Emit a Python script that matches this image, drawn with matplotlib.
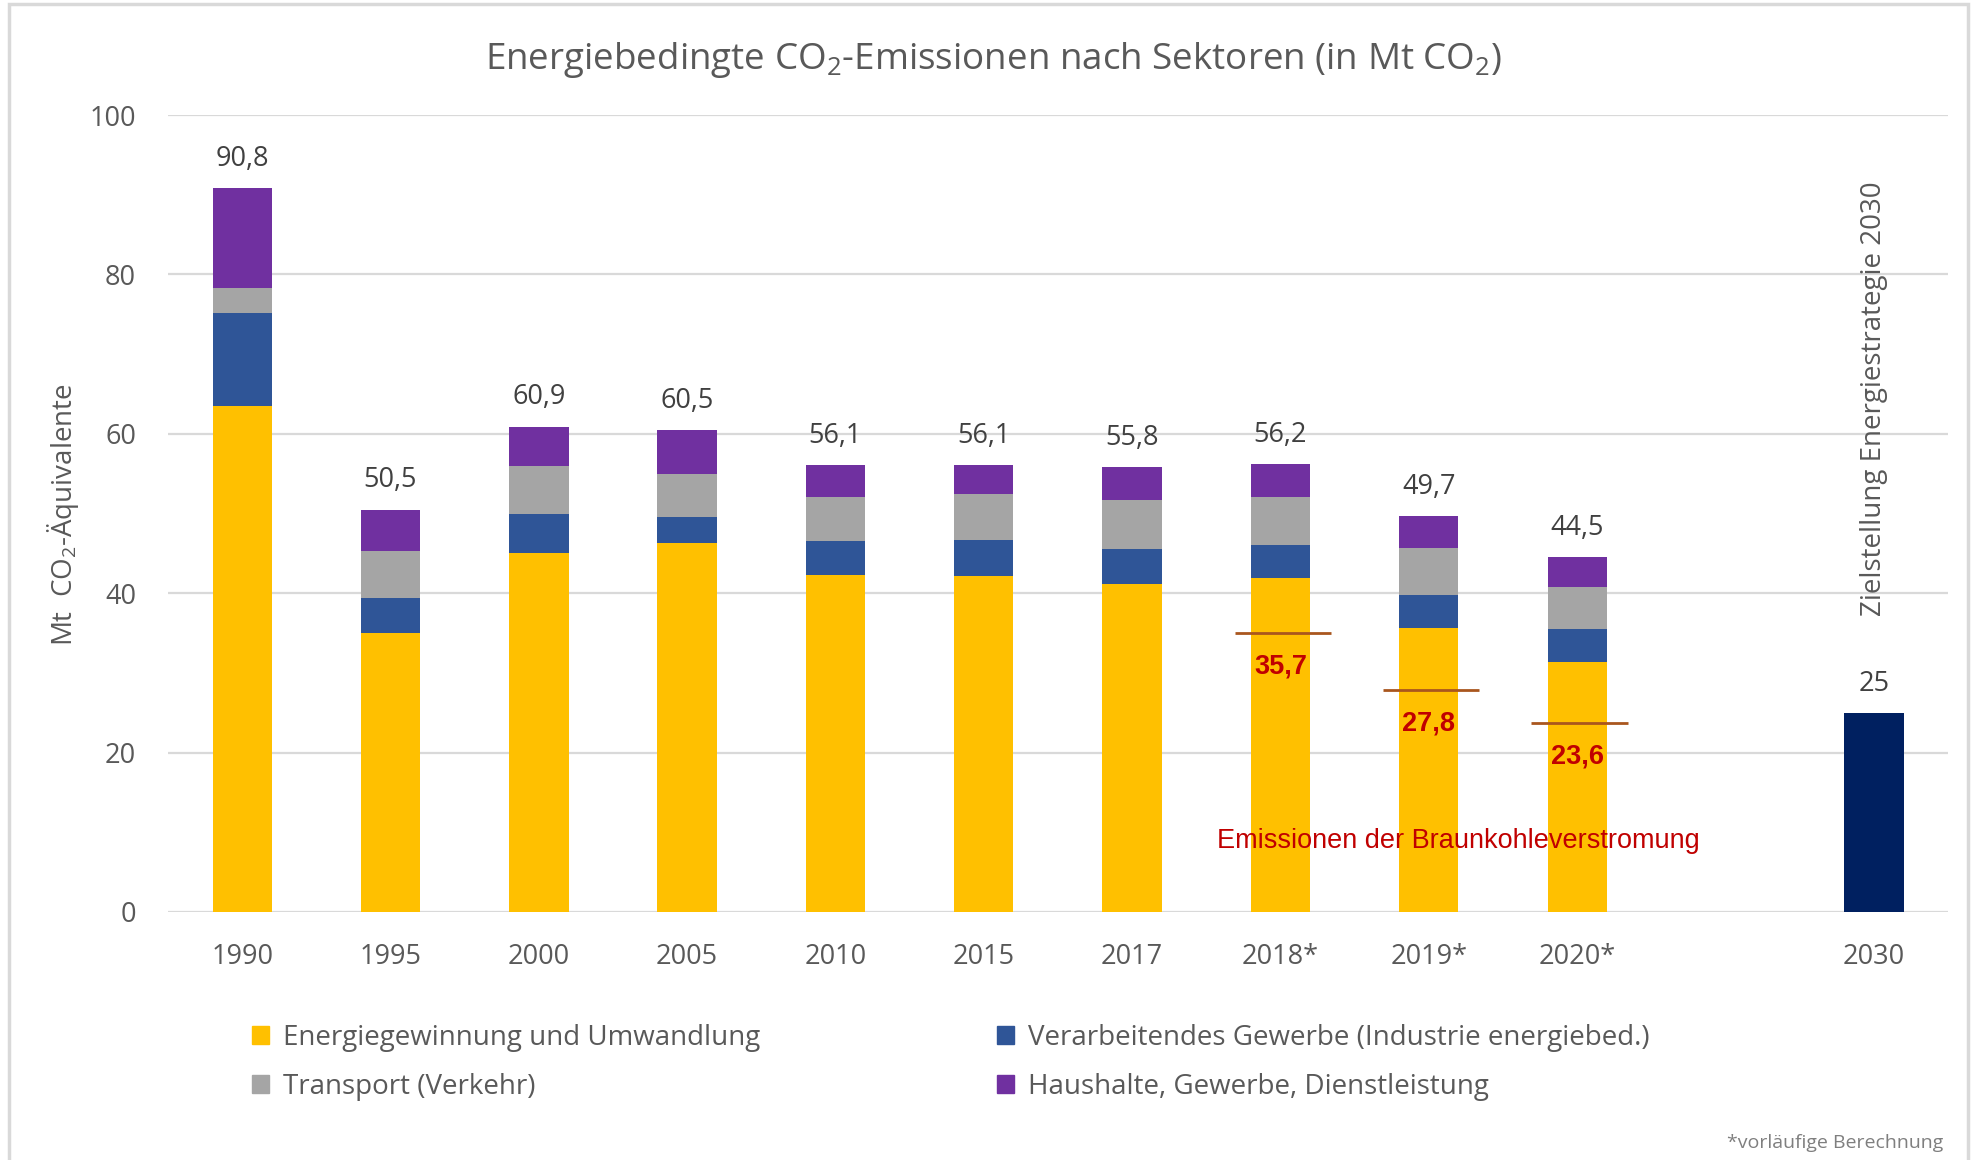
#! /usr/bin/env python

# import modules
import numpy
import matplotlib
matplotlib.use('Agg')
import matplotlib.pyplot
import matplotlib.patches


# Data
# ----
years = ['1990', '1995', '2000', '2005', '2010', '2015', '2017', '2018*', '2019*', '2020*']
energie = [63.5, 35.0, 45.0, 46.3, 42.3, 42.2, 41.1, 41.9, 35.6, 31.4]
industrie = [11.6, 4.4, 5.0, 3.3, 4.2, 4.5, 4.5, 4.2, 4.2, 4.1]
transport = [3.2, 5.9, 6.0, 5.3, 5.6, 5.7, 6.1, 6.0, 5.9, 5.3]
haushalte = [12.5, 5.2, 4.9, 5.6, 4.0, 3.7, 4.1, 4.1, 4.0, 3.7]
totals = ['90,8', '50,5', '60,9', '60,5', '56,1', '56,1', '55,8', '56,2', '49,7', '44,5']

target_year = '2030'
target_value = 25
target_label = '25'

# lignite: marker line as drawn in the source, and its printed value
lignite_years = ['2018*', '2019*', '2020*']
lignite_marks = [35.0, 27.8, 23.7]
lignite_labels = ['35,7', '27,8', '23,6']

yticks = [0, 20, 40, 60, 80, 100]

# Style
# -----
W, H = 1979, 1160
c_yellow = '#FFC000'
c_blue = '#2F5597'
c_gray = '#A5A5A5'
c_purple = '#7030A0'
c_navy = '#002060'
c_red = '#C00000'
c_line = '#A9561E'
c_text = '#595959'
c_dark = '#404040'
c_grid = '#D9D9D9'

matplotlib.rcParams['font.family'] = ['Open Sans', 'DejaVu Sans']
matplotlib.rcParams['mathtext.default'] = 'regular'
narrow = ['Liberation Sans Narrow', 'Liberation Sans', 'DejaVu Sans']

fig = matplotlib.pyplot.figure(figsize=(W / 100, H / 100), dpi=100)
fig.patch.set_facecolor('white')
ax = fig.add_axes([168 / W, 1 - 912 / H, (1948 - 168) / W, (912 - 115) / H])

# Bars
# ----
pos = numpy.arange(len(years))
width = 0.40
bottom = numpy.zeros(len(years))
series = [(energie, c_yellow), (industrie, c_blue), (transport, c_gray), (haushalte, c_purple)]
for vals, col in series:
    ax.bar(pos, vals, width, bottom=bottom, color=col, linewidth=0, zorder=3)
    bottom = bottom + numpy.array(vals)

pos_target = len(years) + 1
ax.bar(pos_target, target_value, width, color=c_navy, linewidth=0, zorder=3)

# Total labels
# ------------
for x, y, lab in zip(pos, bottom, totals):
    ax.annotate(lab, (x, y), xytext=(0, 21), textcoords='offset points',
                ha='center', va='center', fontsize=19.5, color=c_dark)
ax.annotate(target_label, (pos_target, target_value), xytext=(0, 21),
            textcoords='offset points', ha='center', va='center', fontsize=19.5, color=c_dark)

# Lignite markers
# ---------------
for yr, val, lab in zip(lignite_years, lignite_marks, lignite_labels):
    x = years.index(yr)
    ax.hlines(val, x - 0.31, x + 0.34, color=c_line, linewidth=2, zorder=4)
    ax.annotate(lab, (x, val), xytext=(0, -24), textcoords='offset points',
                ha='center', va='center', fontsize=19.5, fontweight='bold',
                color=c_red, family=narrow, zorder=5)
ax.text(8.2, 8.9, 'Emissionen der Braunkohleverstromung', ha='center', va='center',
        fontsize=19.5, color=c_red, family=narrow, zorder=5)

# Target text
# -----------
ax.text(pos_target, 37.1, 'Zielstellung Energiestrategie 2030', rotation=90,
        ha='center', va='bottom', fontsize=20, color=c_text)

# Axes options
# ------------
ax.set_xlim(-0.5, len(years) + 1.5)
ax.set_ylim(0, 100)
ax.set_xticks(list(pos) + [pos_target])
ax.set_xticklabels(years + [target_year])
ax.set_yticks(yticks)
ax.tick_params(axis='both', length=0, labelsize=19.5, labelcolor=c_text)
ax.tick_params(axis='x', pad=22)
ax.tick_params(axis='y', pad=23)
ax.grid(axis='y', color=c_grid, linewidth=1.6, zorder=0)
for s in ax.spines.values():
    s.set_visible(False)

fig.text(63 / W, 1 - 515 / H, 'Mt  CO$_2$-Äquivalente', rotation=90,
         ha='center', va='center', fontsize=20, color=c_text)
fig.text(993 / W, 1 - 60 / H, 'Energiebedingte CO$_2$-Emissionen nach Sektoren (in Mt CO$_2$)',
         ha='center', va='center', fontsize=26.5, color=c_text)
fig.text(1943 / W, 1 - 1143 / H, '*vorläufige Berechnung', ha='right', va='center',
         fontsize=14, color='#7F7F7F')

# Legend
# ------
names = ['Energiegewinnung und Umwandlung', 'Transport (Verkehr)',
         'Verarbeitendes Gewerbe (Industrie energiebed.)', 'Haushalte, Gewerbe, Dienstleistung']
cols = [c_yellow, c_gray, c_blue, c_purple]
handles = [matplotlib.patches.Patch(color=c) for c in cols]
for k, xl in enumerate([252, 997]):
    leg = fig.legend(handles[2 * k:2 * k + 2], names[2 * k:2 * k + 2],
                     loc='upper left', bbox_to_anchor=(xl / W, 1 - 1024 / H),
                     frameon=False, fontsize=20, handlelength=0.6, handleheight=0.6,
                     handletextpad=0.5, labelspacing=0.74, borderpad=0, borderaxespad=0)
    for t in leg.get_texts():
        t.set_color(c_text)

# Frame
# -----
fig.patches.append(matplotlib.patches.Rectangle((9 / W, -0.05), (1968 - 9) / W, 1.05 - 4 / H,
                                                transform=fig.transFigure, fill=False,
                                                edgecolor=c_grid, linewidth=2.5))

fig.savefig('out.png', dpi=100)
